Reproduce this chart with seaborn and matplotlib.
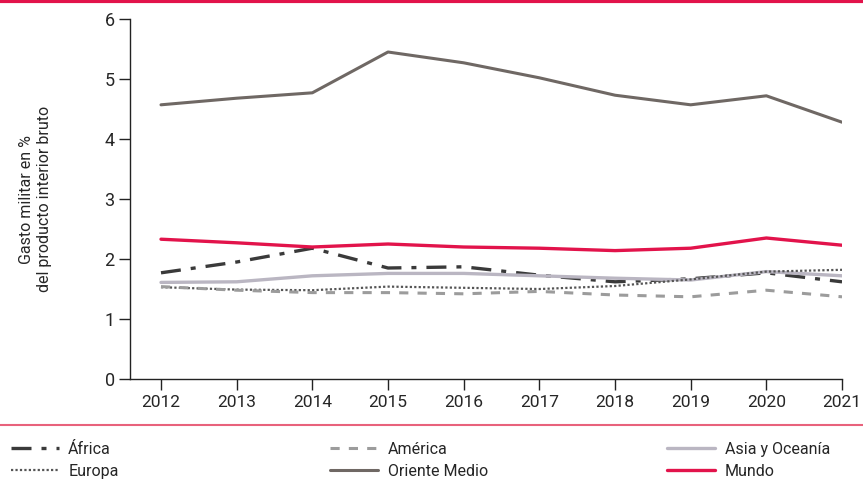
import pandas as pd
import matplotlib.pyplot as plt
import seaborn as sns
from matplotlib.lines import Line2D

# Data
years = [2012, 2013, 2014, 2015, 2016, 2017, 2018, 2019, 2020, 2021]
africa = [1.77, 1.95, 2.18, 1.85, 1.87, 1.73, 1.62, 1.67, 1.77, 1.62]
america = [1.54, 1.48, 1.44, 1.44, 1.42, 1.46, 1.40, 1.37, 1.48, 1.37]
asia = [1.61, 1.62, 1.72, 1.76, 1.76, 1.72, 1.68, 1.65, 1.79, 1.72]
europa = [1.53, 1.49, 1.48, 1.54, 1.52, 1.50, 1.55, 1.66, 1.79, 1.82]
oriente = [4.57, 4.68, 4.77, 5.45, 5.27, 5.02, 4.73, 4.57, 4.72, 4.28]
mundo = [2.33, 2.27, 2.20, 2.25, 2.20, 2.18, 2.14, 2.18, 2.35, 2.23]

series = {
    'África': africa,
    'América': america,
    'Asia y Oceanía': asia,
    'Europa': europa,
    'Oriente Medio': oriente,
    'Mundo': mundo,
}

styles = {
    'África': dict(color='#3a3a3a', linestyle=(0, (6, 3, 1.5, 3)), linewidth=2.4),
    'América': dict(color='#9c9c9c', linestyle=(0, (3, 3)), linewidth=2.2),
    'Asia y Oceanía': dict(color='#bab6c2', linestyle='-', linewidth=2.4),
    'Europa': dict(color='#555555', linestyle=(0, (1, 1)), linewidth=1.6),
    'Oriente Medio': dict(color='#6f6864', linestyle='-', linewidth=2.2),
    'Mundo': dict(color='#e2134b', linestyle='-', linewidth=2.4),
}

rows = []
for name, vals in series.items():
    for y, v in zip(years, vals):
        rows.append({'Año': y, 'Región': name, 'Valor': v})
df = pd.DataFrame(rows)

sns.set_style('white')
plt.rcParams['font.family'] = ['Roboto', 'DejaVu Sans']

fig = plt.figure(figsize=(8.63, 4.8), dpi=100)
ax = fig.add_axes([0.1506, 0.2104, 0.8251, 0.75])

order = ['Oriente Medio', 'África', 'Asia y Oceanía', 'Europa', 'América', 'Mundo']
for name in order:
    sub = df[df['Región'] == name]
    sns.lineplot(data=sub, x='Año', y='Valor', ax=ax, label=None, **styles[name])

ax.set_xlim(2011.59, 2021)
ax.set_ylim(0, 6)
ax.set_xticks(years)
ax.set_yticks(range(7))
ax.set_xlabel('')
ax.set_ylabel('Gasto militar en %\ndel producto interior bruto', fontsize=11.5, labelpad=38)
ax.tick_params(axis='both', labelsize=12.5, length=8, width=1, color='#222222', direction='out',
               bottom=True, left=True)
ax.tick_params(axis='y', labelsize=13, pad=3)
for s in ['top', 'right']:
    ax.spines[s].set_visible(False)
for s in ['left', 'bottom']:
    ax.spines[s].set_color('#222222')
    ax.spines[s].set_linewidth(1)
if ax.get_legend():
    ax.get_legend().remove()

# decorative lines
fig.add_artist(Line2D([0, 1], [0.997, 0.997], color='#e2134b', linewidth=3, transform=fig.transFigure))
fig.add_artist(Line2D([0, 1], [1 - 425 / 480, 1 - 425 / 480], color='#e8627c', linewidth=1.5,
                      transform=fig.transFigure))

# legend in three columns
cols = [['África', 'Europa'], ['América', 'Oriente Medio'], ['Asia y Oceanía', 'Mundo']]
xpos = [0.005, 0.375, 0.766]
for names, x in zip(cols, xpos):
    handles = [Line2D([], [], **styles[n]) for n in names]
    fig.legend(handles, names, loc='upper left', bbox_to_anchor=(x, 0.093),
               frameon=False, fontsize=11.5, handlelength=3, handletextpad=0.6,
               labelspacing=0.45, borderaxespad=0)

fig.savefig('out.png', dpi=100)
